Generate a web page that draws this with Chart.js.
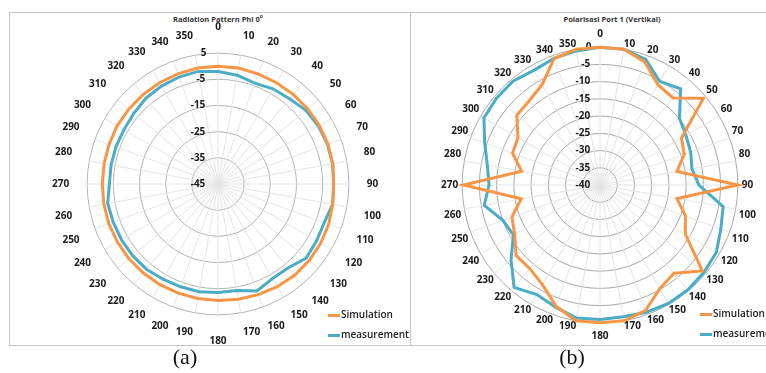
<!DOCTYPE html>
<html>
<head>
<meta charset="utf-8">
<script src="https://cdn.jsdelivr.net/npm/chart.js@4.4.1/dist/chart.umd.min.js"></script>
<style>
  body { margin: 0; background: #fff; width: 766px; height: 373px; overflow: hidden; position: relative; font-family: "Open Sans", sans-serif; }
  .frame { position: absolute; left: 9px; top: 12px; width: 820px; height: 332px; border: 1px solid #c6c6c6; }
  .divider { position: absolute; left: 410px; top: 12px; width: 1px; height: 333px; background: #c6c6c6; }
  .box { position: absolute; }
  .title { position: absolute; font: bold 7.5px "Open Sans", sans-serif; color: #333; white-space: nowrap; transform: translateX(-50%); }
  .title sup { font-size: 5px; }
  .legend { position: absolute; font: 600 10px "Open Sans", sans-serif; color: #222; line-height: 20px; white-space: nowrap; }
  .legend span { display: inline-block; width: 12px; height: 3px; vertical-align: middle; margin-right: 1px; }
  .caption { position: absolute; font: 22px "Liberation Serif", serif; color: #111; transform: translateX(-50%); }
</style>
</head>
<body>
<div class="frame"></div>
<div class="divider"></div>

<div class="title" style="left:218px;top:13px">Radiation Pattern Phi 0<sup>o</sup></div>
<div class="box" style="left:50px;top:18px;width:333px;height:333px"><canvas id="chartA"></canvas></div>
<div class="legend" style="left:328px;top:304px">
  <div><span style="background:#F79646"></span>Simulation</div>
  <div><span style="background:#4BACC6"></span>measurement</div>
</div>

<div class="title" style="left:612px;top:14px">Polarisasi Port 1 (Vertikal)</div>
<div class="box" style="left:440px;top:26px;width:319px;height:319px"><canvas id="chartB"></canvas></div>
<div class="legend" style="left:700px;top:303px">
  <div><span style="background:#F79646"></span>Simulation</div>
  <div><span style="background:#4BACC6"></span>measurement</div>
</div>

<div class="caption" style="left:185px;top:344px">(a)</div>
<div class="caption" style="left:572px;top:344px">(b)</div>

<script>
// angles 0..350 deg
var angleLabels = ['0','10','20','30','40','50','60','70','80','90','100','110','120','130','140','150','160','170',
  '180','190','200','210','220','230','240','250','260','270','280','290','300','310','320','330','340','350'];

// (a) Radiation Pattern Phi 0
var simA = [0, 0, -0.2, -0.3, -0.3, -0.3, -0.3, -0.3, -0.5, -0.8, -0.5, 0, 0.3, 0.5, 0.5, 0.3, 0, -0.3,
  -0.5, -0.6, -0.6, -0.6, -0.6, -0.6, -0.6, -0.6, -0.7, -0.8, -0.8, -0.7, -0.5, -0.5, -0.4, -0.3, -0.2, 0];
var measA = [-2, -2.8, -4, -3, -2.5, -1.2, -0.7, -0.5, -0.5, -0.8, -0.5, -1.8, -1.5, -1, -3.2, -3.3, -1.5, -3.7,
  -3.5, -3.2, -3.2, -3, -2.5, -2.4, -2.4, -2.4, -2.2, -3.5, -3.5, -3.5, -3.5, -3, -2.2, -1.8, -1.5, -1.3];

// (b) Polarisasi Port 1 (Vertikal)
var simB = [0, 0, -2, -6.4, -7, -0.8, -12.7, -14, -17.3, 0, -17.3, -13.6, -11.4, -1.2, -6.6, -5.3, -1.3, 0,
  0, 0, -2.6, -6.6, -8.3, -8.2, -11.4, -12.8, -16.8, -0.4, -16.9, -13, -12.5, -8.5, -8.1, -6.4, -1, 0];
var measB = [0, 0, -1.2, -5.3, -3.6, -9.9, -11.2, -12, -12.9, -11.3, -3.7, -2.7, -1, -0.6, -0.3, -0.3, -0.7, -1.2,
  -1, -0.8, -2.3, -3.3, -1.2, -6.3, -11, -10, -5.9, -7.8, -6.8, -4.4, -1.1, -0.8, -0.7, -1.6, -0.9, -0.5];

var orange = '#F79646';
var blue = '#4BACC6';
var labelFont = { family: 'Open Sans', size: 10, weight: 'bold' };

function line(label, data, color) {
  return {
    label: label,
    data: data,
    borderColor: color,
    backgroundColor: color,
    borderWidth: 3,
    pointRadius: 0,
    pointHoverRadius: 0,
    fill: false,
    tension: 0
  };
}

// Excel keeps the angle labels on a circle; pull the ones near top/bottom in a bit
function labelPad(base, k, axis) {
  return function(ctx) {
    if (ctx.index % 18 === 0) return axis;
    var a = Number(angleLabels[ctx.index]) * Math.PI / 180;
    return base - k * Math.abs(Math.cos(a));
  };
}

function chartA() {
  new Chart(document.getElementById('chartA'), {
    type: 'radar',
    data: {
      labels: angleLabels,
      datasets: [line('Simulation', simA, orange), line('measurement', measA, blue)]
    },
    options: {
      responsive: true,
      maintainAspectRatio: false,
      animation: false,
      plugins: { legend: { display: false }, tooltip: { enabled: false } },
      scales: {
        r: {
          min: -45,
          max: 5,
          angleLines: { color: '#e4e4e4', lineWidth: 1 },
          grid: { circular: true, color: '#b4b4b4', lineWidth: 1 },
          pointLabels: { padding: labelPad(13, 4.5, 15), color: '#1a1a1a', font: labelFont },
          ticks: {
            stepSize: 10,
            showLabelBackdrop: false,
            backdropPadding: 0,
            color: '#1a1a1a',
            font: labelFont,
            callback: function(v) { return v + '\u2007'.repeat(String(v).length + 4); }
          }
        }
      }
    }
  });
}

function chartB() {
  new Chart(document.getElementById('chartB'), {
    type: 'radar',
    data: {
      labels: angleLabels,
      datasets: [line('Simulation', simB, orange), line('measurement', measB, blue)]
    },
    options: {
      responsive: true,
      maintainAspectRatio: false,
      animation: false,
      plugins: { legend: { display: false }, tooltip: { enabled: false } },
      scales: {
        r: {
          min: -40,
          max: 0,
          angleLines: { color: '#e4e4e4', lineWidth: 1 },
          grid: { circular: true, color: '#a8a8a8', lineWidth: 1, borderDash: [4, 2] },
          pointLabels: { padding: labelPad(-1, 5, 2), color: '#1a1a1a', font: labelFont },
          ticks: {
            stepSize: 5,
            showLabelBackdrop: false,
            backdropPadding: 0,
            color: '#1a1a1a',
            font: labelFont,
            callback: function(v) { return v + '\u2007'.repeat(String(v).length + 3); }
          }
        }
      }
    }
  });
}

chartA();
chartB();
</script>
</body>
</html>
